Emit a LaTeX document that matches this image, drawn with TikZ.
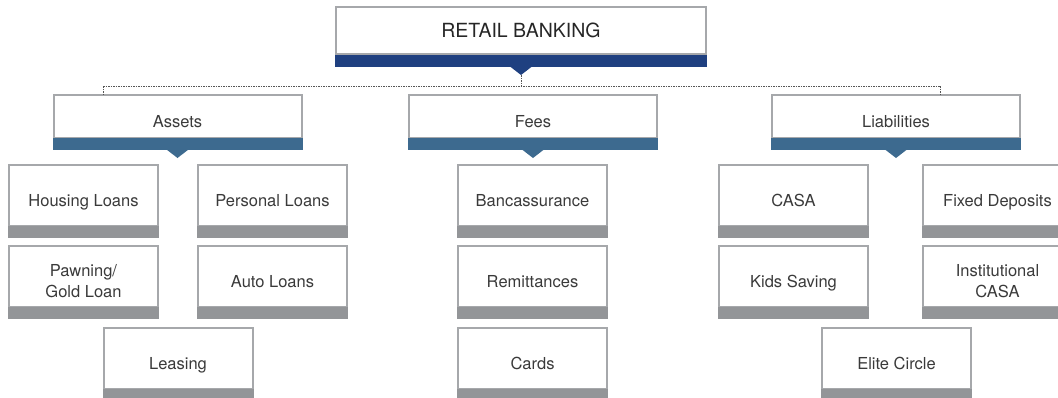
\documentclass[tikz,border=0pt]{standalone}
\usepackage{fontspec}
\setmainfont{TeX Gyre Heros}

\definecolor{navybar}{HTML}{1F4080}
\definecolor{steelbar}{HTML}{3D6A8F}
\definecolor{greybar}{HTML}{939598}
\definecolor{framegrey}{HTML}{A6A8AB}
\definecolor{textgrey}{HTML}{3A3A3A}
\definecolor{dotgrey}{HTML}{555555}

% white box with a grey frame and a coloured bar along its bottom edge
\newcommand\bankbox[2]{%
  \draw[frame] ([shift={(1pt,-1pt)}]#1.north west) rectangle ([shift={(-1pt,12pt)}]#1.south east);
  \fill[#2] ([yshift=12pt]#1.south west) rectangle (#1.south east);
}
% small downward pointer under a heading box
\newcommand\pointer[2]{%
  \fill[#2] ([shift={(-11pt,0.5pt)}]#1.south) -- ([shift={(11pt,0.5pt)}]#1.south) -- ([yshift=-8pt]#1.south) -- cycle;
}

\begin{document}
\begin{tikzpicture}[x=1pt,y=-1pt,
  txt/.style={text=textgrey, font=\fontsize{16.5}{21.3}\selectfont},
  leaf/.style={txt, minimum width=151pt, minimum height=74pt, inner sep=0pt,
    outer sep=0pt, align=center, text height=12pt, text depth=2pt},
  twoline/.style={text height=33.3pt},
  cat/.style={leaf, minimum width=250pt, minimum height=56pt},
  rootbox/.style={text=black!85, font=\fontsize{19.5}{23}\selectfont,
    minimum width=372pt, minimum height=49pt, inner sep=0pt, outer sep=0pt,
    text height=14pt, text depth=0pt},
  frame/.style={draw=framegrey, line width=2pt},
  conn/.style={draw=dotgrey, line width=1pt, dash pattern=on 1.5pt off 1pt}]

\clip (0,0) rectangle (1058,397);
\useasboundingbox (0,0) rectangle (1058,397);

% top level
\node[rootbox] (root) at (521,30.5) {RETAIL BANKING};
\draw[frame] ([shift={(1pt,-1pt)}]root.north west) rectangle ([shift={(-1pt,1pt)}]root.south east);
\fill[navybar] (root.south west) rectangle ([yshift=-12pt]root.south east);
\fill[navybar] ([shift={(-11pt,-11.5pt)}]root.south) -- ([shift={(11pt,-11.5pt)}]root.south) -- ([yshift=-20pt]root.south) -- cycle;
\coordinate (roottip) at ([yshift=-20pt]root.south);

% categories
\node[cat] (assets) at (177.5,122) {Assets};
\node[cat] (fees) at (533,122) {Fees};
\node[cat] (liab) at (896,122) {Liabilities};
\foreach \n in {assets,fees,liab}{\bankbox{\n}{steelbar}\pointer{\n}{steelbar}}

% dotted connectors
\coordinate (busL) at (103,86);
\coordinate (busR) at (940,86);
\draw[conn] (roottip) -- (roottip |- busL);
\draw[conn] (busL) -- (busR);
\draw[conn] (busL) -- (busL |- assets.north);
\draw[conn] (busR) -- (busR |- liab.north);

% assets
\node[leaf] (housing) at (83.5,201) {Housing Loans};
\node[leaf] (personal) at (272.5,201) {Personal Loans};
\node[leaf, twoline] (pawning) at (83.5,282) {Pawning/\\Gold Loan};
\node[leaf] (auto) at (272.5,282) {Auto Loans};
\node[leaf] (leasing) at (178,364) {Leasing};

% fees
\node[leaf] (banca) at (532.5,201) {Bancassurance};
\node[leaf] (remit) at (532.5,282) {Remittances};
\node[leaf] (cards) at (532.5,364) {Cards};

% liabilities
\node[leaf] (casa) at (793.5,201) {CASA};
\node[leaf] (fixed) at (997.5,201) {Fixed Deposits};
\node[leaf] (kids) at (793.5,282) {Kids Saving};
\node[leaf, twoline] (inst) at (997.5,282) {Institutional\\CASA};
\node[leaf] (elite) at (896.5,364) {Elite Circle};

\foreach \n in {housing,personal,pawning,auto,leasing,banca,remit,cards,casa,fixed,kids,inst,elite}
  {\bankbox{\n}{greybar}}
\end{tikzpicture}
\end{document}
